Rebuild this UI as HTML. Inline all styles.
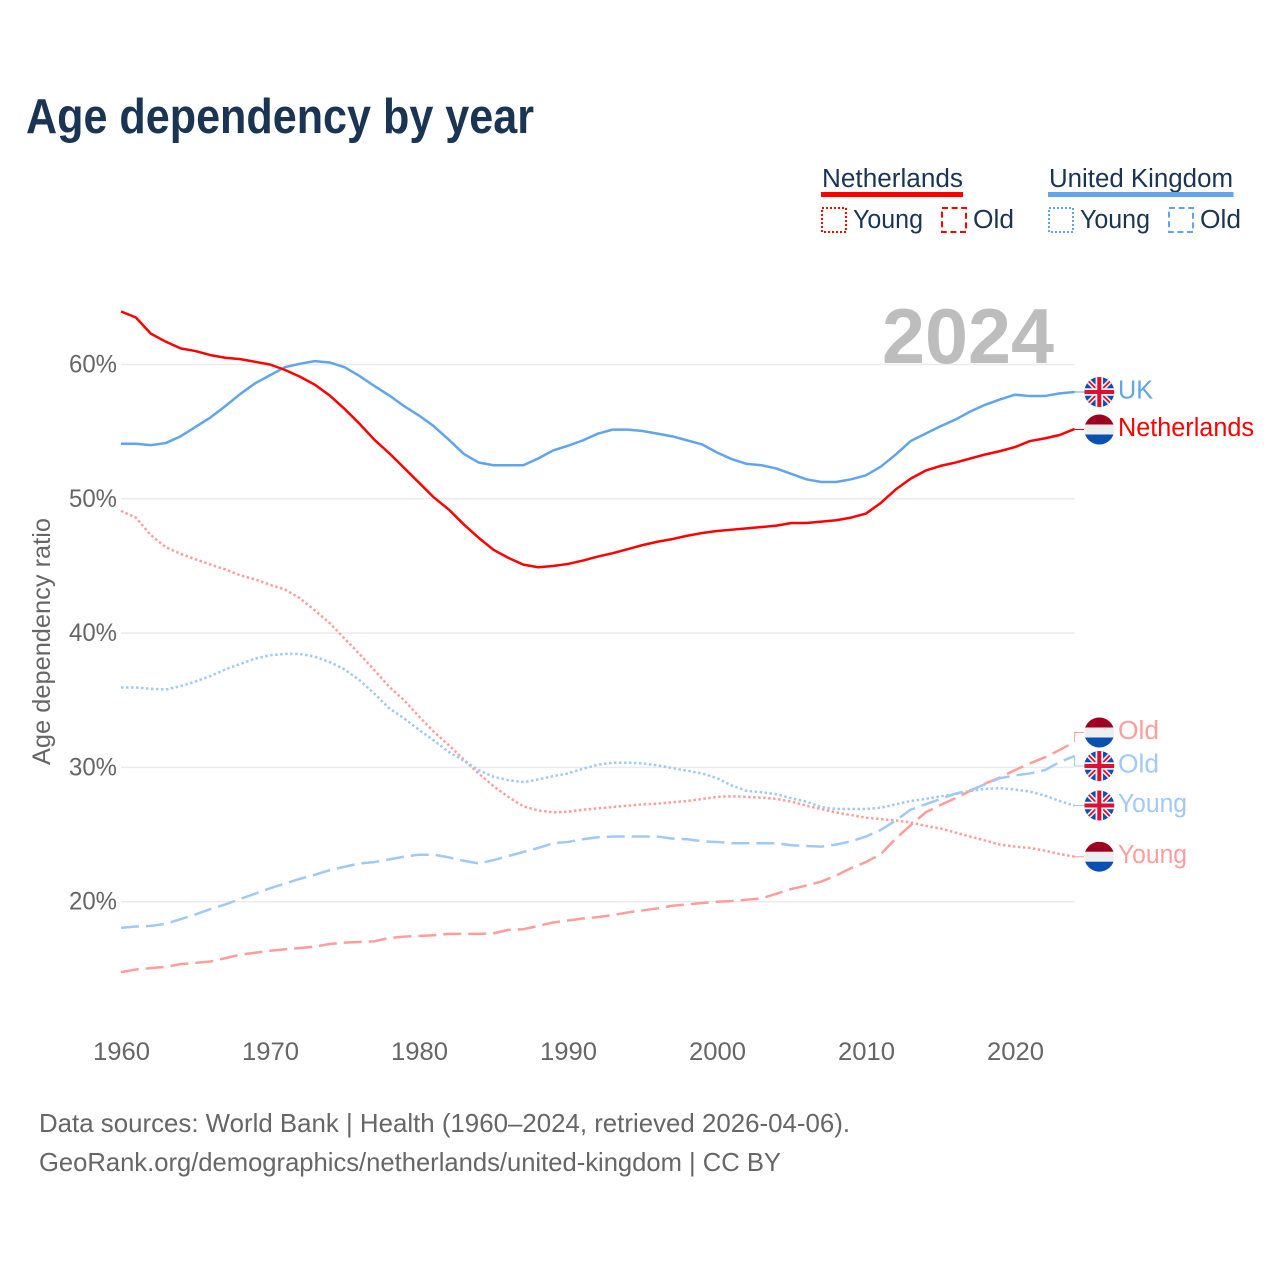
<!DOCTYPE html>
<html lang="en">
<head>
<meta charset="utf-8">
<title>Age dependency by year</title>
<style>
html,body{margin:0;padding:0;background:#fff;}
svg{display:block;font-family:"Liberation Sans",sans-serif;}
</style>
</head>
<body>
<svg id="chart" width="1280" height="1280" viewBox="0 0 1280 1280" xmlns="http://www.w3.org/2000/svg">
  <rect width="1280" height="1280" fill="#fff"/>
  <text x="26" y="133" font-size="49" font-weight="700" fill="#1a3454" textLength="508" lengthAdjust="spacingAndGlyphs">Age dependency by year</text>

  <g font-size="25.5" fill="#1a3454">
    <g>
      <text x="822" y="187" textLength="141" lengthAdjust="spacingAndGlyphs">Netherlands</text>
      <rect x="821" y="192" width="142" height="5" fill="#ff0000"/>
      <rect x="822" y="208" width="24" height="24" fill="none" stroke="#ff0000" stroke-width="2" stroke-dasharray="2 2"/>
      <text x="853" y="228" textLength="70" lengthAdjust="spacingAndGlyphs">Young</text>
      <rect x="942" y="208" width="24" height="24" fill="none" stroke="#ff0000" stroke-width="2" stroke-dasharray="6 3.6"/>
      <text x="973" y="228" textLength="41" lengthAdjust="spacingAndGlyphs">Old</text>
    </g>
    <g>
      <text x="1049" y="187" textLength="184" lengthAdjust="spacingAndGlyphs">United Kingdom</text>
      <rect x="1048" y="192" width="185.500" height="5" fill="#60a5ec"/>
      <rect x="1049" y="208" width="24" height="24" fill="none" stroke="#60a5ec" stroke-width="2" stroke-dasharray="2 2"/>
      <text x="1080" y="228" textLength="70" lengthAdjust="spacingAndGlyphs">Young</text>
      <rect x="1169" y="208" width="24" height="24" fill="none" stroke="#60a5ec" stroke-width="2" stroke-dasharray="6 3.6"/>
      <text x="1200" y="228" textLength="41" lengthAdjust="spacingAndGlyphs">Old</text>
    </g>
  </g>

  <g id="grid"></g>
  <text x="882" y="363" font-size="78" font-weight="700" fill="#bdbdbd" textLength="172" lengthAdjust="spacingAndGlyphs">2024</text>
  <g id="y-ticks"></g>
  <g id="x-ticks"></g>
  <text transform="translate(50,765) rotate(-90)" font-size="25" fill="#666" textLength="247" lengthAdjust="spacingAndGlyphs">Age dependency ratio</text>
  <g id="series"></g>
  <g id="end-labels"></g>

  <text x="39" y="1132" font-size="26" fill="#666" textLength="811" lengthAdjust="spacingAndGlyphs">Data sources: World Bank | Health (1960–2024, retrieved 2026-04-06).</text>
  <text x="39" y="1171" font-size="26" fill="#666" textLength="742" lengthAdjust="spacingAndGlyphs">GeoRank.org/demographics/netherlands/united-kingdom | CC BY</text>
</svg>
<script>
const startYear = 1960;
const xTickLabels = [1960, 1970, 1980, 1990, 2000, 2010, 2020];
const yTickLabels = [20, 30, 40, 50, 60];

const nlTotal = [63.95,63.5,62.3,61.7,61.2,61.0,60.7,60.5,60.4,60.2,60.0,59.6,59.1,58.5,57.7,56.7,55.6,54.4,53.4,52.3,51.2,50.1,49.2,48.1,47.1,46.2,45.6,45.1,44.9,45.0,45.15,45.4,45.7,45.95,46.25,46.55,46.8,47.0,47.25,47.45,47.6,47.7,47.8,47.9,48.0,48.2,48.2,48.3,48.4,48.6,48.9,49.7,50.7,51.5,52.1,52.45,52.7,53.0,53.3,53.55,53.85,54.3,54.5,54.75,55.2];
const ukTotal = [54.1,54.1,54.0,54.15,54.65,55.35,56.05,56.9,57.8,58.6,59.2,59.8,60.05,60.25,60.15,59.8,59.15,58.4,57.7,56.9,56.2,55.4,54.4,53.35,52.7,52.5,52.5,52.5,53.0,53.6,53.95,54.35,54.85,55.15,55.15,55.05,54.85,54.65,54.35,54.05,53.45,52.95,52.6,52.5,52.25,51.85,51.45,51.25,51.25,51.45,51.75,52.4,53.3,54.3,54.85,55.4,55.9,56.5,57.0,57.4,57.75,57.65,57.65,57.85,57.95];
const nlYoung = [49.1,48.6,47.3,46.4,45.9,45.5,45.1,44.75,44.3,44.0,43.6,43.25,42.6,41.7,40.75,39.6,38.45,37.25,36.0,35.0,33.8,32.65,31.65,30.6,29.55,28.6,27.8,27.1,26.8,26.65,26.7,26.85,26.95,27.05,27.15,27.25,27.3,27.4,27.5,27.65,27.8,27.85,27.8,27.75,27.65,27.45,27.15,26.9,26.65,26.45,26.25,26.15,26.05,25.9,25.65,25.45,25.15,24.85,24.55,24.25,24.1,24.0,23.8,23.55,23.35];
const ukYoung = [35.95,35.95,35.85,35.8,36.05,36.4,36.8,37.3,37.7,38.1,38.35,38.45,38.45,38.25,37.85,37.3,36.5,35.5,34.4,33.65,32.8,32.0,31.15,30.5,29.8,29.3,29.05,28.9,29.1,29.35,29.55,29.9,30.2,30.35,30.35,30.3,30.15,29.95,29.75,29.55,29.2,28.65,28.25,28.15,28.0,27.7,27.45,27.05,26.9,26.9,26.9,27.0,27.25,27.5,27.65,27.85,28.0,28.25,28.4,28.45,28.35,28.2,27.9,27.5,27.15];
const nlOld = [14.75,14.95,15.05,15.15,15.35,15.45,15.55,15.8,16.05,16.2,16.35,16.45,16.55,16.65,16.85,16.95,17.0,17.05,17.3,17.4,17.45,17.5,17.6,17.6,17.6,17.65,17.9,17.95,18.2,18.45,18.6,18.75,18.85,19.0,19.2,19.35,19.5,19.7,19.8,19.9,20.0,20.05,20.15,20.25,20.6,20.95,21.2,21.5,21.95,22.5,22.95,23.55,24.7,25.7,26.65,27.2,27.7,28.25,28.8,29.25,29.8,30.3,30.75,31.3,31.9];
const ukOld = [18.05,18.15,18.2,18.35,18.7,19.05,19.45,19.8,20.2,20.6,21.0,21.35,21.7,22.0,22.35,22.6,22.85,22.95,23.15,23.35,23.5,23.5,23.3,23.05,22.85,23.1,23.4,23.7,24.0,24.35,24.45,24.65,24.8,24.85,24.85,24.85,24.85,24.7,24.65,24.5,24.45,24.35,24.35,24.35,24.35,24.2,24.15,24.1,24.25,24.5,24.85,25.35,26.05,26.85,27.25,27.65,28.05,28.3,28.75,29.2,29.4,29.55,29.8,30.4,30.85];

const endLabelNames = ["UK", "Netherlands", "Old", "Old", "Young", "Young"];

const NS = "http://www.w3.org/2000/svg";
function xScale(year) { return 121 + (year - 1960) * 14.9; }
function yScale(v) { return 364.5 + (60 - v) * 13.43; }
function make(tag, attrs, parent) {
  const n = document.createElementNS(NS, tag);
  for (const k in attrs) n.setAttribute(k, attrs[k]);
  parent.appendChild(n);
  return n;
}

const RED = "#ff0000", BLUE = "#60a5ec", LRED = "#ff9d9d", LBLUE = "#a0c9f4";

/* gridlines and y ticks */
const gridG = document.getElementById("grid");
const yG = document.getElementById("y-ticks");
yTickLabels.forEach(function (t) {
  const line = make("line", { x1: 121, x2: 1074.5, y1: yScale(t), y2: yScale(t), stroke: "#ebebeb", "stroke-width": 1.5 }, gridG);
  
  
  const label = make("text", { x: 117, y: yScale(t) + 8, "text-anchor": "end", "font-size": 25, fill: "#666", textLength: 48, lengthAdjust: "spacingAndGlyphs" }, yG);
  label.textContent = t + "%";
  
  
});

/* x ticks */
const xG = document.getElementById("x-ticks");
xTickLabels.forEach(function (t) {
  const label = make("text", { x: xScale(t) + 0.5, y: 1060, "text-anchor": "middle", "font-size": 25, fill: "#666", textLength: 57, lengthAdjust: "spacingAndGlyphs" }, xG);
  label.textContent = t;
  
  
});

/* series */
const seriesG = document.getElementById("series");
function drawLine(values, color, dash, width, name) {
  const pts = values.map(function (v, i) { return xScale(startYear + i).toFixed(2) + "," + yScale(v).toFixed(2); }).join(" ");
  const attrs = { points: pts, fill: "none", stroke: color, "stroke-width": width, "stroke-linejoin": "round" };
  if (dash) attrs["stroke-dasharray"] = dash;
  const p = make("polyline", attrs, seriesG);
  
  
  return p;
}
drawLine(nlYoung, LRED, "2.5 2.5", 2.5, "line-netherlands-young");
drawLine(ukYoung, LBLUE, "2.5 2.5", 2.5, "line-uk-young");
drawLine(nlOld, LRED, "18 7", 2.5, "line-netherlands-old");
drawLine(ukOld, LBLUE, "18 7", 2.5, "line-uk-old");
drawLine(ukTotal, BLUE, null, 2.5, "line-uk-total");
drawLine(nlTotal, RED, null, 2.5, "line-netherlands-total");

/* end labels with flags */
const defs = make("defs", {}, document.getElementById("chart"));
const labelsG = document.getElementById("end-labels");
function flagNL(g, cy) {
  const cx = 1099.3;
  const a = make("rect", { x: cx - 15, y: cy - 15, width: 30, height: 10.500, fill: "#9e0022" }, g);
  
  
  const b = make("rect", { x: cx - 15, y: cy - 5, width: 30, height: 10.500, fill: "#eeeeee" }, g);
  
  
  const c = make("rect", { x: cx - 15, y: cy + 5, width: 30, height: 10.500, fill: "#0a50b0" }, g);
  
  
}
function flagUK(g, cy) {
  const cx = 1099.3;
  const bg = make("rect", { x: cx - 15, y: cy - 15, width: 30, height: 30, fill: "#0a50b0" }, g);
  
  
  const d = "M" + (cx - 15) + " " + (cy - 15) + "L" + (cx + 15) + " " + (cy + 15) + "M" + (cx + 15) + " " + (cy - 15) + "L" + (cx - 15) + " " + (cy + 15);
  const w = make("path", { d: d, stroke: "#f2f2f2", "stroke-width": 5, fill: "none" }, g);
  
  
  const r = make("path", { d: d, stroke: "#dc1034", "stroke-width": 1.8, fill: "none" }, g);
  
  
  const crossD = "M" + cx + " " + (cy - 15) + "V" + (cy + 15) + "M" + (cx - 15) + " " + cy + "H" + (cx + 15);
  const cw = make("path", { d: crossD, stroke: "#f2f2f2", "stroke-width": 7.5, fill: "none" }, g);
  
  
  const cr = make("path", { d: crossD, stroke: "#dc1034", "stroke-width": 4, fill: "none" }, g);
  
  
}
function endLabel(idx, values, color, flagY, width, isUK, name) {
  const x0 = xScale(startYear + values.length - 1);
  const y0 = yScale(values[values.length - 1]);
  const conn = make("path", { d: "M" + x0 + " " + y0 + "V" + flagY + "H1084", fill: "none", stroke: color, "stroke-width": 1 }, labelsG);
  
  
  const cp = make("clipPath", { id: "clip-" + idx }, defs);
  make("circle", { cx: 1099.3, cy: flagY, r: 15 }, cp);
  const g = make("g", { "clip-path": "url(#clip-" + idx + ")" }, labelsG);
  
  
  if (isUK) flagUK(g, flagY); else flagNL(g, flagY);
  const t = make("text", { x: 1118, y: flagY + 6.500, "font-size": 25.5, fill: color, textLength: width, lengthAdjust: "spacingAndGlyphs" }, labelsG);
  t.textContent = endLabelNames[idx];
  
  
}
endLabel(0, ukTotal, BLUE, 392, 35, true, "end-uk-total");
endLabel(1, nlTotal, RED, 429.5, 136, false, "end-netherlands-total");
endLabel(2, nlOld, LRED, 732.5, 41, false, "end-netherlands-old");
endLabel(3, ukOld, LBLUE, 766, 41, true, "end-uk-old");
endLabel(4, ukYoung, LBLUE, 805.5, 69, true, "end-uk-young");
endLabel(5, nlYoung, LRED, 856.7, 69, false, "end-netherlands-young");
</script>
</body>
</html>
